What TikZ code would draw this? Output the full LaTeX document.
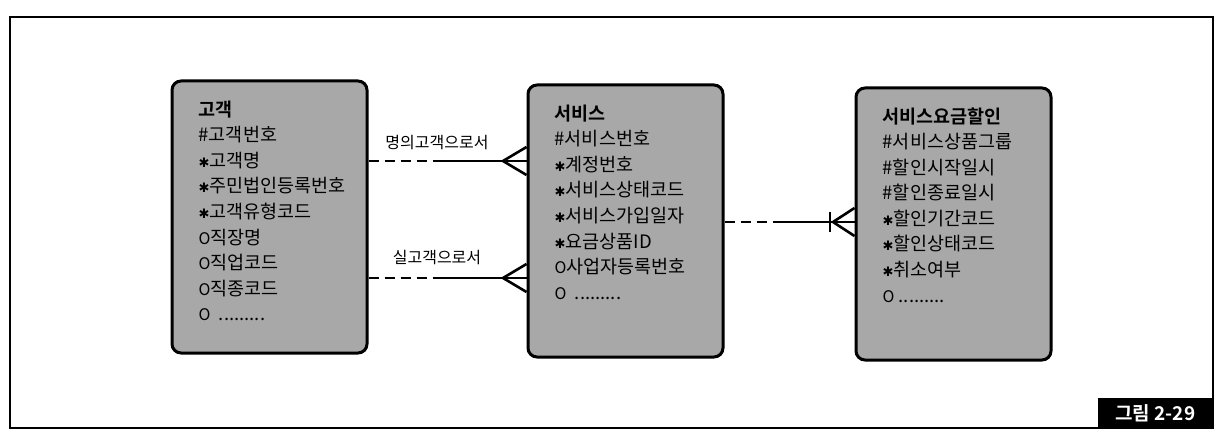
\documentclass[tikz,border=0pt]{standalone}
\usepackage{fontspec}
\setmainfont{Noto Sans CJK KR}[BoldFont={Noto Sans CJK KR Bold}]
\newfontfamily\symfont{DejaVu Sans}
\usetikzlibrary{calc}

\newcommand{\etcdots}{.........}
\newcommand{\mand}{{\symfont\fontsize{13}{13}\selectfont ✱}}
\newcommand{\opto}{{\fontsize{16}{16}\selectfont O}}

\begin{document}
\begin{tikzpicture}[x = 1pt, y = -1pt,
	entity/.style = {draw, line width = 3pt, rounded corners = 9pt, fill = black!34,
		minimum width = 195pt, minimum height = 272pt, inner sep = 0pt},
	attr/.style = {anchor = west, inner sep = 0pt, text height = 0.8em, text depth = 0.2em,
		font = \fontsize{18.5}{20}\selectfont},
	rel/.style = {line width = 2.6pt},
	opt/.style = {rel, dash pattern = on 10pt off 6pt},
	rolelabel/.style = {font = \fontsize{16}{18}\selectfont},
	caption/.style = {fill = black, text = white, font = \fontsize{19}{21}\selectfont\bfseries,
		minimum width = 115pt, minimum height = 30pt, inner sep = 0pt, anchor = south east}]

	% Definitions

	\def\dx{28}		% Text indent inside an entity
	\def\dy{34}		% First text line below the top
	\def\lh{25.5}	% Line height
	\def\pr{14}		% Half spread of a crow's foot

	\useasboundingbox (0, 0) rectangle (1222, 446);

	% Frame

	\draw [line width = 1.6pt] (10, 17) rectangle (1213, 428);
	\coordinate (frame-se) at (1213, 428);

	% Entities

	\node [entity] (customer) at (269.5, 217) {};
	\node [entity] (service) at (625.5, 221) {};
	\node [entity] (discount) at (953.5, 224) {};

	% Attributes

	\foreach \t [count = \i from 0] in {{\bfseries 고객}, {\#고객번호}, {\mand 고객명},
		{\mand 주민법인등록번호}, {\mand 고객유형코드}, {\opto 직장명}, {\opto 직업코드}, {\opto 직종코드}, {\opto\ \ \etcdots}}
		\node [attr] (customer-\i) at ($(customer.north west) + (\dx, \dy + \lh * \i)$) {\t};

	\foreach \t [count = \i from 0] in {{\bfseries 서비스}, {\#서비스번호}, {\mand 계정번호},
		{\mand 서비스상태코드}, {\mand 서비스가입일자}, {\mand 요금상품ID}, {\opto 사업자등록번호}, {\opto\ \ \etcdots}}
		\node [attr] (service-\i) at ($(service.north west) + (\dx, \dy + \lh * \i)$) {\t};

	\foreach \t [count = \i from 0] in {{\bfseries 서비스요금할인}, {\#서비스상품그룹}, {\#할인시작일시},
		{\#할인종료일시}, {\mand 할인기간코드}, {\mand 할인상태코드}, {\mand 취소여부}, {\opto\ \etcdots}}
		\node [attr] (discount-\i) at ($(discount.north west) + (\dx, \dy + \lh * \i)$) {\t};

	% Relationship rows

	\coordinate (r1) at (0, 161);
	\coordinate (r2) at (0, 278);
	\coordinate (r3) at (0, 222);

	\coordinate (m1) at (443, 161);
	\coordinate (m2) at (443, 278);
	\coordinate (m3) at (783, 222);

	\coordinate (f1) at (503, 161);
	\coordinate (f2) at (503, 278);
	\coordinate (f3) at (833, 222);

	% Customer to service

	\draw [opt] (customer.east |- r1) -- (m1);
	\draw [rel] (m1) -- (service.west |- r1);
	\draw [opt] (customer.east |- r2) -- (m2);
	\draw [rel] (m2) -- (service.west |- r2);

	\foreach \d in {-\pr, \pr}
	{
		\draw [rel] (f1) -- ($(service.west |- r1) + (0, \d)$);
		\draw [rel] (f2) -- ($(service.west |- r2) + (0, \d)$);
	}

	\node [rolelabel] (role1) at (437, 143) {명의고객으로서};
	\node [rolelabel] (role2) at (437, 258) {실고객으로서};

	% Service to discount

	\draw [opt] (service.east |- r3) -- (m3);
	\draw [rel] (m3) -- (discount.west |- r3);
	\draw [rel] ($(f3) + (-3, -10)$) -- ($(f3) + (-3, 10)$);

	\foreach \d in {-\pr, \pr}
		\draw [rel] (f3) -- ($(discount.west |- r3) + (0, \d)$);

	% Caption

	\node [caption] (fig) at (frame-se) {그림 2-29};

\end{tikzpicture}
\end{document}
